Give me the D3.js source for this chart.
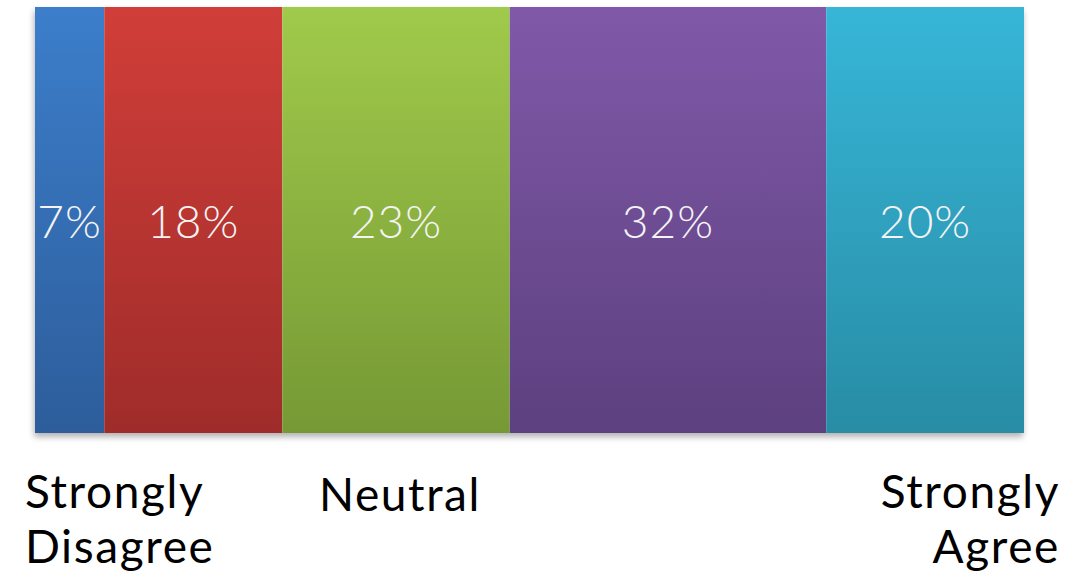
<!DOCTYPE html>
<html><head><meta charset="utf-8">
<script src="https://cdn.jsdelivr.net/npm/d3@7"></script>
<style>body{margin:0;background:#fff;}svg{display:block;}</style>
</head><body>
<svg id="chart" width="1088" height="577"></svg>
<script>
const categories = ["Strongly Disagree","Disagree","Neutral","Agree","Strongly Agree"];
const values = [7, 18, 23, 32, 20];
const valueLabels = ["7%","18%","23%","32%","20%"];
const topColors = ["#3c7ecb","#d13e39","#a0ca4b","#8059a9","#37b6d8"];
const bottomColors = ["#2d5d9b","#9f2c2a","#769935","#5d407f","#288ca5"];

const svg = d3.select("#chart");
const x = d3.scaleLinear().domain([0, d3.sum(values)]).range([35, 1024]);
const y0 = 7, y1 = 433;
const starts = d3.cumsum([0, ...values]);

const defs = svg.append("defs");
const f = defs.append("filter").attr("id","sh").attr("x","-5%").attr("y","-5%").attr("width","110%").attr("height","115%");
f.append("feDropShadow").attr("dx",-1).attr("dy",4).attr("stdDeviation",3).attr("flood-color","#000").attr("flood-opacity",0.3);
values.forEach((v,i)=>{
  const g = defs.append("linearGradient").attr("id","g"+i).attr("x1",0).attr("y1",0).attr("x2",0).attr("y2",1);
  g.append("stop").attr("offset","0%").attr("stop-color",topColors[i]);
  g.append("stop").attr("offset","100%").attr("stop-color",bottomColors[i]);
});

svg.append("rect").attr("x",x(0)).attr("y",y0).attr("width",x(100)-x(0)).attr("height",y1-y0)
  .attr("fill","#fff").attr("filter","url(#sh)");

svg.selectAll("rect.seg").data(values).join("rect").attr("class","seg")
  .attr("x",(d,i)=>x(starts[i])).attr("y",y0)
  .attr("width",(d,i)=>x(starts[i]+d)-x(starts[i])).attr("height",y1-y0)
  .attr("fill",(d,i)=>`url(#g${i})`);

svg.selectAll("text.val").data(values).join("text").attr("class","val")
  .attr("x",(d,i)=>(x(starts[i])+x(starts[i]+d))/2).attr("y",238)
  .attr("text-anchor","middle").attr("fill","#f4f4f4")
  .style("font-family","Lato, sans-serif").style("font-weight",300).style("font-size","46px")
  .style("letter-spacing","1px")
  .text((d,i)=>valueLabels[i]);

function addLabel(lines, xpos, anchor, baseY){
  const t = svg.append("text").attr("text-anchor",anchor).attr("fill","#000")
    .style("font-family","Lato, sans-serif").style("font-size","46px").style("font-weight",400)
    .style("letter-spacing","1.6px");
  lines.forEach((l,k)=>t.append("tspan").attr("x",xpos).attr("y",baseY+k*55).text(l));
}
addLabel(["Strongly","Disagree"], 25, "start", 508);
addLabel(["Neutral"], (x(starts[2])+x(starts[3]))/2 + 4, "middle", 511);
addLabel(["Strongly","Agree"], 1060, "end", 508);
</script>
</body></html>
